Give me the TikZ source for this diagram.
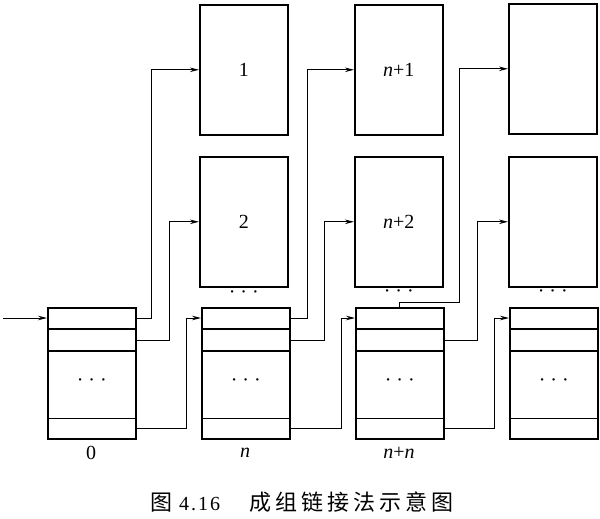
\documentclass[tikz,border=0pt]{standalone}
\usepackage{fontspec}
\setmainfont{Liberation Serif}
\newfontfamily\cjk{Noto Sans CJK SC}
\usetikzlibrary{arrows.meta,calc}
\newcommand{\threedots}{·\hspace{5pt}·\hspace{5pt}·}
\begin{document}
\begin{tikzpicture}[x=1pt,y=-1pt,
  blk/.style={draw,line width=1.6pt,minimum width=88pt,minimum height=130pt,anchor=north west,inner sep=0pt,font=\fontsize{20}{20}\selectfont},
  idx/.style={draw,line width=1.6pt,minimum width=88pt,minimum height=131pt,anchor=north west,inner sep=0pt},
  link/.style={line width=1pt,-{Stealth[length=9pt,width=4.5pt]}},
  lbl/.style={font=\fontsize{20}{20}\selectfont,inner sep=0pt},
  dots/.style={font=\fontsize{20}{20}\selectfont,inner sep=0pt}]
\useasboundingbox (0,0) rectangle (600,519);
% data blocks
\node[blk] (b1)  at (199,4)   {1};
\node[blk] (bn1) at (354,4)   {\textit{n}+1};
\node[blk] (br1) at (508,3)   {};
\node[blk] (b2)  at (199,156) {2};
\node[blk] (bn2) at (354,156) {\textit{n}+2};
\node[blk] (br2) at (508,156) {};
% index blocks
\foreach \n/\x in {i0/47,in/201,inn/355,ir/509}{
  \node[idx] (\n) at (\x,307) {};
  \draw[line width=1.1pt] ($(\n.north west)+(0,22)$) -- ($(\n.north east)+(0,22)$);
  \draw[line width=1.1pt] ($(\n.north west)+(0,44)$) -- ($(\n.north east)+(0,44)$);
  \draw[line width=1.1pt] ($(\n.south west)+(0,-21)$) -- ($(\n.south east)+(0,-21)$);
  \node[dots] (d\n) at ($(\n.north)+(0,76)$) {\threedots};
}
% dots between rows
\node[dots] (db2)  at ($(b2.south)+(0,7)$)  {\threedots};
\node[dots] (dbn2) at ($(bn2.south)+(0,6)$) {\threedots};
\node[dots] (dbr2) at ($(br2.south)+(0,6)$) {\threedots};
% bottom labels
\node[lbl] (l0)   at (91,453)  {0};
\node[lbl] (ln)   at (245,453) {\textit{n}};
\node[lbl] (lnn)  at (399,453) {\textit{n}+\textit{n}};
% caption
\node[inner sep=0pt,anchor=west,font=\fontsize{20}{20}\selectfont] (cap) at (150,502)
  {{\cjk\fontsize{22}{22}\selectfont 图}\hspace{7pt}4\hspace{2pt}.\hspace{2pt}1\hspace{2pt}6\hspace{29pt}{\cjk\fontsize{22}{22}\selectfont 成\hspace{4pt}组\hspace{4pt}链\hspace{4pt}接\hspace{4pt}法\hspace{4pt}示\hspace{4pt}意\hspace{4pt}图}};
% connectors
\coordinate (start) at (3,318);
\draw[link] (start) -- ($(i0.north west)+(0,11)$);
\draw[link] ($(i0.north east)+(0,11)$) -- ++(15,0) |- (b1.west);
\draw[link] ($(i0.north east)+(0,33)$) -- ++(33,0) |- (b2.west);
\draw[link] ($(i0.south east)+(0,-11)$) -- ++(50,0) |- ($(in.north west)+(0,11)$);
\draw[link] ($(in.north east)+(0,11)$) -- ++(17,0) |- (bn1.west);
\draw[link] ($(in.north east)+(0,33)$) -- ++(34,0) |- (bn2.west);
\draw[link] ($(in.south east)+(0,-11)$) -- ++(51,0) |- ($(inn.north west)+(0,11)$);
\draw[link] (inn.north) -- ++(0,-5) -- ++(60,0) |- (br1.west);
\draw[link] ($(inn.north east)+(0,33)$) -- ++(33,0) |- (br2.west);
\draw[link] ($(inn.south east)+(0,-11)$) -- ++(50,0) |- ($(ir.north west)+(0,11)$);
\end{tikzpicture}
\end{document}
